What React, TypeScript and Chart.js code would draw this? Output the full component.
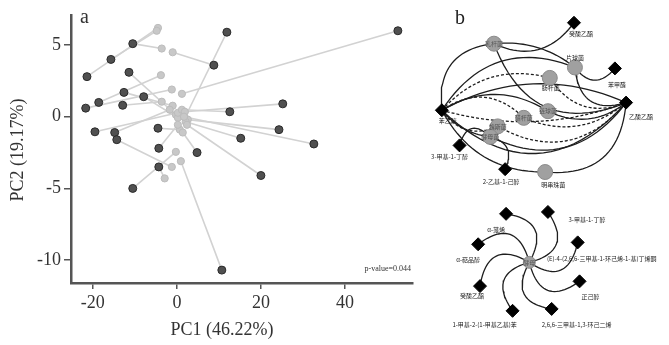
import React, { useEffect, useRef } from "react";
import { Chart, registerables } from "chart.js";
Chart.register(...registerables);

// ---------- Panel a data (Procrustes PCA) ----------
const darkX = [-21.4, -15.7, -10.5, -11.4, -21.7, -18.6, -12.6, -12.9, -7.9, -19.5, -14.8, -14.3, -4.5, -4.3, 4.8, -4.3, 11.9, 8.8, 12.6, 52.6, 25.2, 24.3, 15.2, 32.6, 20.0, -10.5, 10.7];
const darkY = [2.8, 4.0, 5.1, 3.1, 0.6, 1.0, 1.7, 0.8, 1.4, -1.05, -1.1, -1.6, -0.8, -2.2, -2.5, -3.5, 5.9, 3.6, 0.35, 6.0, 0.9, -0.9, -1.5, -1.9, -4.1, -5.0, -10.7];
const lightX = [-4.5, -4.8, -3.6, -0.24, -1.2, -3.8, -1.0, -3.6, 0.24, 0.24, -1.7, -1.2, 0.7, 0.24, 1.4, -2.9, 1.9, -1.0, 1.2, 1.2, 1.9, 2.6, 2.1, 1.7, 2.4, -0.24, 0.95];
const lightY = [6.2, 6.0, 4.76, 0.14, 1.9, 2.9, 0.77, 1.05, -0.07, 0.28, 0.49, -3.5, -0.9, -0.56, -1.1, -4.3, -0.07, 4.5, 0.49, 1.6, 0.35, -0.2, -0.35, 0, -0.56, -2.45, -3.1];
const xTicks = [-20, 0, 20, 40];
const yTicks = [5, 0, -5, -10];
const xTitle = "PC1 (46.22%)";
const yTitle = "PC2 (19.17%)";
const pValueText = "p-value=0.044";

// ---------- Panel b data (networks) ----------
const nodeX = [151, 65, 152, 195, 125, 9, 207, 123, 97, 69, 61, 28, 77, 120, 103, 78, 123, 155, 48, 157, 50, 85, 127];
const nodeY = [15, 37, 62, 63, 73, 107, 99, 108, 115, 124, 135, 144, 169, 172, 267, 216, 214, 246, 248, 287, 292, 318, 316];
const nodeKind = ["d", "c", "c", "d", "c", "d", "d", "c", "c", "c", "c", "d", "d", "c", "c", "d", "d", "d", "d", "d", "d", "d", "d"];
const nodeLabel = ["癸酸乙酯", "乳杆菌", "片球菌", "苯甲醛", "肠杆菌", "苯乙醇", "乙酸乙酯", "链球菌", "醋杆菌", "魏斯菌", "酵母菌", "3-甲基-1-丁醇", "2-乙基-1-己醇", "明串珠菌", "酵母", "α-蒎烯", "3-甲基-1-丁醇", "(E)-4-(2,6,6-三甲基-1-环己烯-1-基)丁烯酮", "α-萜品醇", "正己醇", "癸酸乙酯", "1-甲基-2-(1-甲基乙基)苯", "2,6,6-三甲基-1,3-环己二烯"];
const edgeFrom = [5, 1, 1, 1, 2, 2, 5, 5, 4, 5, 7, 5, 8, 5, 9, 5, 5, 5, 10, 5, 10, 12, 5, 13, 14, 14, 14, 14, 14, 14, 14, 14];
const edgeTo = [1, 0, 2, 6, 3, 6, 2, 4, 6, 7, 6, 8, 6, 9, 6, 6, 6, 6, 11, 10, 6, 10, 13, 6, 15, 16, 17, 18, 19, 20, 21, 22];
const edgeBend = [-0.25, 0.2, -0.1, 0.25, 0.3, 0.3, -0.2, -0.15, 0.2, -0.15, 0.15, -0.2, 0.15, 0.2, 0.2, -0.12, 0.25, 0.08, 0.4, 0.1, 0.2, 0.3, 0.15, 0.25, 0.36, 0.36, 0.36, 0.36, 0.36, 0.36, 0.36, 0.36];
const edgeDashed = [0, 0, 0, 0, 0, 0, 0, 1, 1, 0, 0, 1, 1, 1, 1, 0, 0, 1, 0, 0, 0, 0, 0, 0, 0, 0, 0, 0, 0, 0, 0, 0];

// label offsets (style only)
const labelDX = [7, 0, 0, 2, 1, 6, 15, 0, 0, 0, 0, -10, -4, 8, 0, -10, 39, 24, -10, 11, -8, -28, 25];
const labelDY = [11, 0, -10, 16, 10, 10, 14, 0, 0, 0, 0, 11, 13, 13, 0, 16, 8, 16, 15, 15, 10, 14, 16];

const SERIF = "'Liberation Serif', 'DejaVu Serif', serif";
const CJK = "'Noto Sans CJK SC', 'Noto Sans', sans-serif";

function bezierPoints(ax: number, ay: number, bx: number, by: number, bend: number) {
  const dx = bx - ax, dy = by - ay;
  const cx = (ax + bx) / 2 - dy * bend * 2;
  const cy = (ay + by) / 2 + dx * bend * 2;
  const pts: { x: number; y: number }[] = [];
  const n = 24;
  for (let i = 0; i <= n; i++) {
    const t = i / n;
    const u = 1 - t;
    pts.push({ x: u * u * ax + 2 * u * t * cx + t * t * bx, y: u * u * ay + 2 * u * t * cy + t * t * by });
  }
  return pts;
}

export default function App() {
  const refA = useRef<HTMLCanvasElement>(null);
  const refB = useRef<HTMLCanvasElement>(null);

  useEffect(() => {
    document.body.style.margin = "0";
    const lineSets: any[] = darkX.map((_, i) => ({
      type: "line",
      data: [
        { x: darkX[i], y: darkY[i] },
        { x: lightX[i], y: lightY[i] },
      ],
      borderColor: "#d2d2d2",
      borderWidth: 1.6,
      pointRadius: 0,
      fill: false,
      order: 5,
    }));

    const textPluginA = {
      id: "textA",
      afterDraw(chart: any) {
        const ctx = chart.ctx;
        ctx.save();
        ctx.fillStyle = "#333";
        ctx.font = `20px ${SERIF}`;
        ctx.textAlign = "left";
        ctx.textBaseline = "alphabetic";
        ctx.fillText("a", 80, 23);
        ctx.font = `18px ${SERIF}`;
        ctx.textAlign = "center";
        ctx.textBaseline = "middle";
        ctx.fillText(xTitle, 222, 330);
        ctx.save();
        ctx.translate(18, 150);
        ctx.rotate(-Math.PI / 2);
        ctx.fillText(yTitle, 0, 0);
        ctx.restore();
        ctx.font = `8px ${SERIF}`;
        ctx.textAlign = "right";
        ctx.textBaseline = "alphabetic";
        ctx.fillText(pValueText, 411, 271);
        ctx.restore();
      },
    };

    const chartA = new Chart(refA.current!, {
      type: "scatter",
      data: {
        datasets: [
          ...lineSets,
          {
            type: "scatter",
            data: lightX.map((x, i) => ({ x, y: lightY[i] })),
            backgroundColor: "#c8c8c8",
            borderColor: "#bcbcbc",
            borderWidth: 1,
            pointRadius: 3.6,
            order: 2,
          },
          {
            type: "scatter",
            data: darkX.map((x, i) => ({ x, y: darkY[i] })),
            backgroundColor: "#505050",
            borderColor: "#2a2a2a",
            borderWidth: 1,
            pointRadius: 4,
            order: 1,
          },
        ],
      },
      options: {
        responsive: false,
        animation: false,
        layout: { padding: { top: 15, right: 12, left: 0, bottom: 0 } },
        plugins: { legend: { display: false }, tooltip: { enabled: false } },
        scales: {
          x: {
            type: "linear",
            min: -25.2,
            max: 56.2,
            afterBuildTicks: (s: any) => {
              s.ticks = xTicks.map((v) => ({ value: v }));
            },
            afterFit: (s: any) => {
              s.height = 62;
            },
            ticks: { font: { family: SERIF, size: 18 }, color: "#333", padding: 3, maxRotation: 0 },
            grid: { display: true, drawOnChartArea: false, drawTicks: true, tickLength: 6, color: "#555", lineWidth: 1.5 },
            border: { display: true, color: "#555", width: 2.5 },
          },
          y: {
            type: "linear",
            min: -11.6,
            max: 7.1,
            afterBuildTicks: (s: any) => {
              s.ticks = yTicks.map((v) => ({ value: v }));
            },
            afterFit: (s: any) => {
              s.width = 71;
            },
            ticks: { font: { family: SERIF, size: 18 }, color: "#333", padding: 3 },
            grid: { display: true, drawOnChartArea: false, drawTicks: true, tickLength: 7, color: "#555", lineWidth: 1.5 },
            border: { display: true, color: "#555", width: 2.5 },
          },
        },
      },
      plugins: [textPluginA],
    } as any);

    // ---------- Panel b ----------
    const edgeSets: any[] = edgeFrom.map((f, i) => {
      const t = edgeTo[i];
      return {
        type: "line",
        data: bezierPoints(nodeX[f], nodeY[f], nodeX[t], nodeY[t], edgeBend[i]),
        borderColor: "#1e1e1e",
        borderWidth: 1.3,
        borderDash: edgeDashed[i] ? [3, 2] : [],
        pointRadius: 0,
        tension: 0,
        fill: false,
        order: 5,
      };
    });
    const diamonds = nodeX.map((x, i) => ({ x, y: nodeY[i], k: nodeKind[i] })).filter((p) => p.k === "d");
    const circles = nodeX.map((x, i) => ({ x, y: nodeY[i], k: nodeKind[i], i })).filter((p) => p.k === "c");

    const textPluginB = {
      id: "textB",
      afterDatasetsDraw(chart: any) {
        const ctx = chart.ctx;
        const xs = chart.scales.x, ys = chart.scales.y;
        ctx.save();
        ctx.fillStyle = "#222";
        ctx.font = `20px ${SERIF}`;
        ctx.textAlign = "left";
        ctx.textBaseline = "alphabetic";
        ctx.fillText("b", 30, 24);
        ctx.font = `6px ${CJK}`;
        ctx.textAlign = "center";
        ctx.textBaseline = "middle";
        nodeLabel.forEach((lab, i) => {
          const px = xs.getPixelForValue(nodeX[i]) + labelDX[i];
          const py = ys.getPixelForValue(nodeY[i]) + labelDY[i];
          ctx.fillStyle = nodeKind[i] === "c" && labelDX[i] === 0 && labelDY[i] === 0 ? "#555" : "#222";
          ctx.fillText(lab, px, py);
        });
        ctx.restore();
      },
    };

    const chartB = new Chart(refB.current!, {
      type: "scatter",
      data: {
        datasets: [
          ...edgeSets,
          {
            type: "scatter",
            data: circles.map((p) => ({ x: p.x, y: p.y })),
            backgroundColor: "#a0a0a0",
            borderColor: "#8a8a8a",
            borderWidth: 1,
            pointRadius: circles.map((p) => (p.i === 14 ? 6 : 7.5)),
            order: 2,
          },
          {
            type: "scatter",
            data: diamonds.map((p) => ({ x: p.x, y: p.y })),
            pointStyle: "rectRot",
            backgroundColor: "#000",
            borderColor: "#000",
            borderWidth: 1,
            pointRadius: 6.5,
            order: 1,
          },
        ],
      },
      options: {
        responsive: false,
        animation: false,
        layout: { padding: 0 },
        plugins: { legend: { display: false }, tooltip: { enabled: false } },
        scales: {
          x: { type: "linear", min: 0, max: 244, display: false },
          y: { type: "linear", min: 0, max: 345, reverse: true, display: false },
        },
      },
      plugins: [textPluginB],
    } as any);

    return () => {
      chartA.destroy();
      chartB.destroy();
    };
  }, []);

  return (
    <div style={{ position: "fixed", left: 0, top: 0, width: 669, height: 345, background: "#fff" }}>
      <canvas ref={refA} width={425} height={345} style={{ position: "absolute", left: 0, top: 0 }} />
      <canvas ref={refB} width={244} height={345} style={{ position: "absolute", left: 425, top: 0 }} />
    </div>
  );
}
